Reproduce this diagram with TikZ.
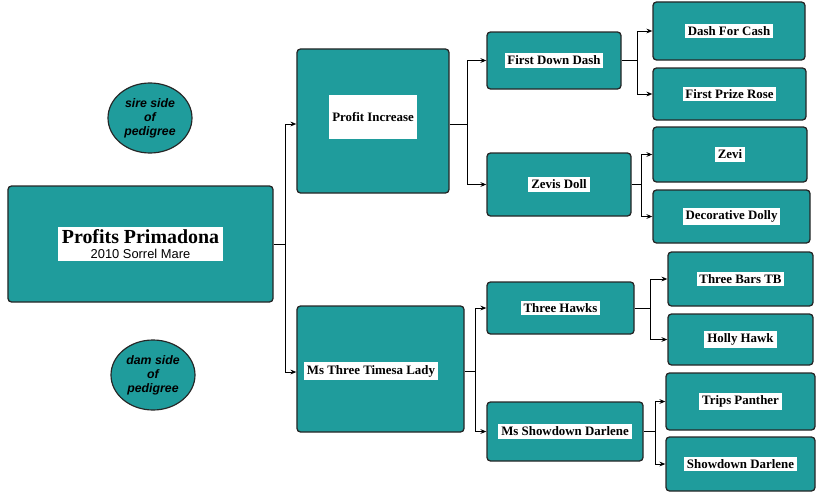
\documentclass[tikz,border=0pt]{standalone}
\usepackage{fontspec}
\setmainfont{Liberation Serif}
\setsansfont{Liberation Sans}
\usetikzlibrary{calc,arrows.meta,shapes.geometric}
\definecolor{teal1}{HTML}{1F9C9C}
\tikzset{
  box/.style={rectangle,rounded corners=3pt,fill=teal1,draw=black!85,line width=1.1pt,inner sep=0pt},
  lbl/.style={fill=white,inner sep=2.5pt,font=\fontsize{11}{12}\selectfont\bfseries},
  oval/.style={ellipse,fill=teal1,draw=black!85,line width=1pt,inner sep=0pt,minimum width=2.52cm,minimum height=2.1cm,align=center,font=\sffamily\bfseries\itshape\fontsize{10.5}{12}\selectfont},
  link/.style={-,line width=0.8pt},
  inarrow/.style={-{Stealth[length=5pt,width=4pt]},line width=0.8pt}
}
\begin{document}
\begin{tikzpicture}[x=0.03cm,y=-0.03cm]
	\useasboundingbox (0,0) rectangle (832,500);
	% boxes
	\node [box,minimum width=7.95cm,minimum height=3.48cm] (root) at (140.5,244) {};
	\node [box,minimum width=4.56cm,minimum height=4.32cm] (pi) at (373,121) {};
	\node [box,minimum width=5.01cm,minimum height=3.78cm] (mtl) at (380.5,369) {};
	\node [box,minimum width=4.02cm,minimum height=1.71cm] (fdd) at (554,60.5) {};
	\node [box,minimum width=4.32cm,minimum height=1.89cm] (zd) at (559,184.5) {};
	\node [box,minimum width=4.41cm,minimum height=1.56cm] (th) at (560.5,308) {};
	\node [box,minimum width=4.68cm,minimum height=1.77cm] (msd) at (565,431.5) {};
	\node [box,minimum width=4.56cm,minimum height=1.74cm] (dfc) at (729,31) {};
	\node [box,minimum width=4.59cm,minimum height=1.56cm] (fpr) at (729.5,94) {};
	\node [box,minimum width=4.62cm,minimum height=1.65cm] (zevi) at (730,154.5) {};
	\node [box,minimum width=4.71cm,minimum height=1.59cm] (dd) at (731.5,216.5) {};
	\node [box,minimum width=4.35cm,minimum height=1.62cm] (tbt) at (740.5,279) {};
	\node [box,minimum width=4.35cm,minimum height=1.53cm] (hh) at (740.5,339.5) {};
	\node [box,minimum width=4.47cm,minimum height=1.71cm] (tp) at (740.5,401.5) {};
	\node [box,minimum width=4.47cm,minimum height=1.62cm] (sd) at (740.5,464) {};

	% labels
	\node [fill=white,inner xsep=3pt,inner ysep=2pt,align=center] (rootl) at (root) {{\fontsize{17}{19}\selectfont\bfseries Profits Primadona}\\[1pt]{\sffamily\fontsize{11}{12}\selectfont 2010 Sorrel Mare}};
	\node [lbl,minimum width=2.4cm,minimum height=1.3cm] (pil) at (373,117) {Profit Increase};
	\node [lbl] (mtll) at (371,371) {Ms Three Timesa Lady};
	\node [lbl] (fddl) at (fdd) {First Down Dash};
	\node [lbl] (zdl) at (zd) {Zevis Doll};
	\node [lbl] (thl) at (th) {Three Hawks};
	\node [lbl] (msdl) at (msd) {Ms Showdown Darlene};
	\node [lbl] (dfcl) at (dfc) {Dash For Cash};
	\node [lbl] (fprl) at (fpr) {First Prize Rose};
	\node [lbl] (zevil) at (zevi) {Zevi};
	\node [lbl] (ddl) at (dd) {Decorative Dolly};
	\node [lbl] (tbtl) at (tbt) {Three Bars TB};
	\node [lbl] (hhl) at (hh) {Holly Hawk};
	\node [lbl] (tpl) at (tp) {Trips Panther};
	\node [lbl] (sdl) at (sd) {Showdown Darlene};

	% ovals
	\node [oval] (sire) at (150,118) {sire side\\of\\pedigree};
	\node [oval] (dam) at (153,375) {dam side\\of\\pedigree};

	% junctions
	\coordinate (j0) at (285,244);
	\coordinate (j1) at (467,124);
	\coordinate (j2) at (475,371);
	\coordinate (j3) at (637,60.5);
	\coordinate (j4) at (641,184.5);
	\coordinate (j5) at (650,308);
	\coordinate (j6) at (655,431.5);

	% connectors
	\draw [link] (root.east |- j0) to (j0);
	\draw [inarrow] (j0) |- (pi.west |- 0,124);
	\draw [inarrow] (j0) |- (mtl.west |- 0,372);
	\draw [link] (pi.east |- j1) to (j1);
	\draw [inarrow] (j1) |- (fdd.west);
	\draw [inarrow] (j1) |- (zd.west);
	\draw [link] (mtl.east |- j2) to (j2);
	\draw [inarrow] (j2) |- (th.west);
	\draw [inarrow] (j2) |- (msd.west);
	\draw [link] (fdd.east) to (j3);
	\draw [inarrow] (j3) |- (dfc.west);
	\draw [inarrow] (j3) |- (fpr.west);
	\draw [link] (zd.east) to (j4);
	\draw [inarrow] (j4) |- (zevi.west);
	\draw [inarrow] (j4) |- (dd.west);
	\draw [link] (th.east) to (j5);
	\draw [inarrow] (j5) |- (tbt.west);
	\draw [inarrow] (j5) |- (hh.west);
	\draw [link] (msd.east) to (j6);
	\draw [inarrow] (j6) |- (tp.west);
	\draw [inarrow] (j6) |- (sd.west);
\end{tikzpicture}
\end{document}
